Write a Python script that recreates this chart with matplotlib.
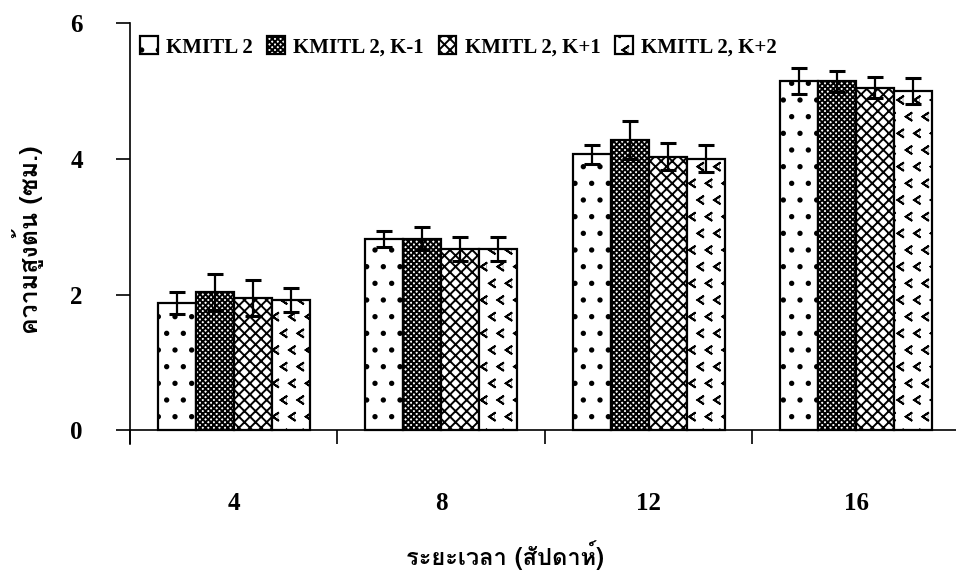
import numpy as np
import matplotlib
matplotlib.use("Agg")
import matplotlib.pyplot as plt
from matplotlib import font_manager, hatch as mhatch
from matplotlib.path import Path
from matplotlib.ft2font import FT2Font

# ---------------- data ----------------
weeks = ["4", "8", "12", "16"]
series_names = ["KMITL 2", "KMITL 2, K-1", "KMITL 2, K+1", "KMITL 2, K+2"]
kmitl2 = [1.88, 2.82, 4.07, 5.15]
kmitl2_km1 = [2.04, 2.82, 4.28, 5.14]
kmitl2_kp1 = [1.95, 2.67, 4.03, 5.05]
kmitl2_kp2 = [1.92, 2.67, 4.00, 5.00]
err_kmitl2 = [0.16, 0.12, 0.14, 0.19]
err_km1 = [0.26, 0.17, 0.28, 0.16]
err_kp1 = [0.26, 0.18, 0.20, 0.16]
err_kp2 = [0.18, 0.18, 0.20, 0.19]
y_ticks = [0, 2, 4, 6]
x_label = "ระยะเวลา (สัปดาห์)"
y_label = "ความสูงต้น (ซม.)"

# ---------------- custom chevron hatch ----------------
class Chevrons(mhatch.Shapes):
    filled = False
    size = 0.38

    def __init__(self, hatch, density):
        self.num_rows = hatch.count('*') * density
        self.shape_vertices = np.array([[0.5, 0.6], [-0.4, 0.0], [0.5, -0.6]])
        self.shape_codes = np.array([Path.MOVETO, Path.LINETO, Path.LINETO],
                                    dtype=Path.code_type)
        super().__init__(hatch, density)

mhatch._hatch_types[:] = [c for c in mhatch._hatch_types if c is not mhatch.Stars] + [Chevrons]

# ---------------- fonts ----------------
def find_thai_font():
    for fe in font_manager.fontManager.ttflist:
        try:
            f = FT2Font(fe.fname)
            if 0x0E01 in f.get_charmap():
                return fe.name
        except Exception:
            pass
    return None

thai = find_thai_font()
serif = "Liberation Serif"
thai_family = [thai, serif] if thai else [serif]

plt.rcParams['hatch.linewidth'] = 1.4
plt.rcParams['font.family'] = [serif, 'DejaVu Sans']

fig = plt.figure(figsize=(9.56, 5.76), dpi=100)
ax = fig.add_axes([130 / 956, (576 - 444) / 576, 1 - 130 / 956 + 0.004, (444 - 23) / 576])

x = np.arange(len(weeks))
bw = 0.183
vals = [kmitl2, kmitl2_km1, kmitl2_kp1, kmitl2_kp2]
errs = [err_kmitl2, err_km1, err_kp1, err_kp2]
hatches = ['.', 'xxxxxx', 'xxx', '*']
handles = []
for i, (v, e, h) in enumerate(zip(vals, errs, hatches)):
    pos = x + (i - 1.5) * bw
    b = ax.bar(pos, v, bw, color='white', edgecolor='black', linewidth=1.6,
               hatch=h, label=series_names[i], zorder=2)
    ax.errorbar(pos, v, yerr=e, fmt='none', ecolor='black', elinewidth=1.6,
                capsize=5.5, capthick=2.2, zorder=3)
    handles.append(b)

ax.set_xlim(-0.5, 3.5)
ax.set_ylim(-0.2, 6)
ax.spines['top'].set_visible(False)
ax.spines['right'].set_visible(False)
ax.spines['bottom'].set_position(('data', 0))
ax.spines['left'].set_linewidth(1.2)
ax.spines['bottom'].set_linewidth(1.2)

ax.set_yticks(y_ticks)
ax.set_yticklabels([str(t) for t in y_ticks], fontsize=18, fontweight='bold')
ax.tick_params(axis='y', direction='out', length=10, width=1.2, pad=24)

ax.set_xticks(x)
ax.set_xticklabels(weeks, fontsize=18, fontweight='bold')
ax.set_xticks(np.arange(-0.5, 3.0, 1.0), minor=True)
ax.tick_params(axis='x', which='major', length=0, pad=44)
ax.tick_params(axis='x', which='minor', direction='out', length=10, width=1.2)

fig.text(505 / 956, 1 - 555 / 576, x_label, ha='center', va='center',
         fontsize=17, fontweight='bold', family=thai_family)
fig.text(28 / 956, 1 - 240 / 576, y_label, ha='center', va='center',
         rotation=90, fontsize=18, fontweight='bold', family=thai_family)

leg = fig.legend(handles=handles, labels=series_names, ncol=4, frameon=False,
                 loc='center left', bbox_to_anchor=(140 / 956, 1 - 47 / 576),
                 borderaxespad=0, borderpad=0, handlelength=0.85, handleheight=0.95,
                 handletextpad=0.4, columnspacing=0.7,
                 prop={'family': serif, 'weight': 'bold', 'size': 15})

fig.savefig("out.png", dpi=100)
